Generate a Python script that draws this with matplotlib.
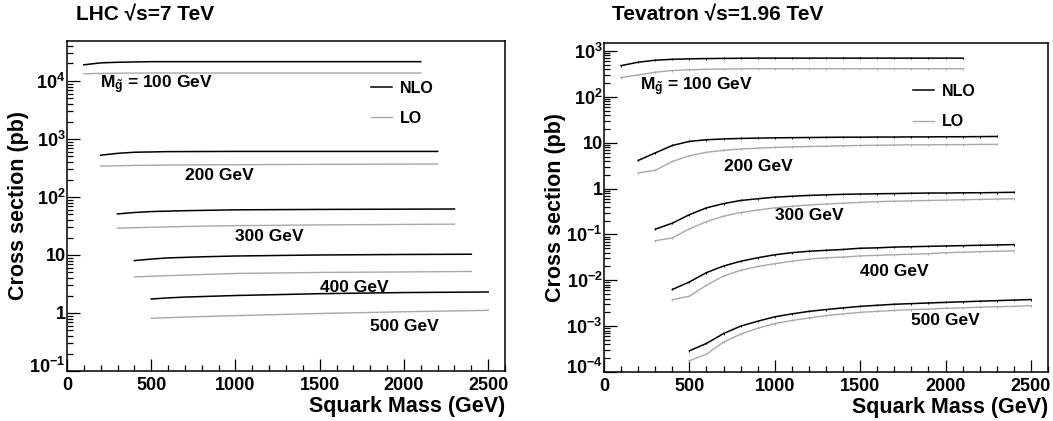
import matplotlib
matplotlib.use('Agg')
import matplotlib.pyplot as plt
import matplotlib.transforms as mtransforms
from matplotlib.lines import Line2D
from matplotlib.ticker import FixedLocator, FixedFormatter, LogLocator, MultipleLocator, NullFormatter

plt.rcParams['font.family'] = ['Liberation Sans', 'DejaVu Sans']
plt.rcParams['font.weight'] = 'bold'
plt.rcParams['mathtext.fontset'] = 'custom'
plt.rcParams['mathtext.rm'] = 'Liberation Sans:bold'
plt.rcParams['mathtext.bf'] = 'Liberation Sans:bold'
plt.rcParams['mathtext.it'] = 'Liberation Sans:bold:italic'

# LHC 7 TeV : squark mass (GeV) -> cross section (pb), one curve per gluino mass
lhc_x = {
    100: [100, 200, 300, 500, 1000, 1500, 2100],
    200: [200, 300, 400, 600, 1000, 1500, 2200],
    300: [300, 400, 500, 700, 1000, 1500, 2300],
    400: [400, 500, 600, 800, 1000, 1500, 2000, 2400],
    500: [500, 600, 700, 1000, 1500, 2000, 2500],
}
lhc_nlo = {
    100: [1.9e4, 2.05e4, 2.1e4, 2.15e4, 2.15e4, 2.15e4, 2.15e4],
    200: [525, 565, 590, 605, 610, 610, 610],
    300: [51, 54, 56, 58, 60, 61, 62],
    400: [8.0, 8.5, 8.9, 9.3, 9.6, 10.0, 10.2, 10.3],
    500: [1.74, 1.82, 1.88, 2.0, 2.15, 2.25, 2.3],
}
lhc_lo = {
    100: [1.33e4, 1.35e4, 1.36e4, 1.37e4, 1.37e4, 1.37e4, 1.37e4],
    200: [340, 345, 350, 355, 360, 365, 370],
    300: [29, 29.5, 30, 31, 32, 33, 34],
    400: [4.2, 4.3, 4.4, 4.6, 4.8, 5.0, 5.1, 5.2],
    500: [0.81, 0.83, 0.85, 0.9, 0.98, 1.05, 1.11],
}

# Tevatron 1.96 TeV, points every 100 GeV
tev_x = {
    100: list(range(100, 2101, 100)),
    200: list(range(200, 2301, 100)),
    300: list(range(300, 2401, 100)),
    400: list(range(400, 2401, 100)),
    500: list(range(500, 2501, 100)),
}
tev_nlo = {
    100: [480, 570, 630, 660, 675, 685, 690, 695, 700, 700, 700, 700, 700, 700, 700, 700, 700, 700, 700, 700, 700],
    200: [4.1, 6.0, 8.7, 10.7, 11.6, 12.1, 12.4, 12.6, 12.8, 12.9, 13.0, 13.1, 13.2, 13.2, 13.3, 13.3, 13.4, 13.4,
          13.5, 13.5, 13.6, 13.7],
    300: [0.13, 0.176, 0.27, 0.38, 0.47, 0.55, 0.60, 0.65, 0.68, 0.71, 0.73, 0.75, 0.76, 0.77, 0.78, 0.79, 0.80,
          0.80, 0.81, 0.81, 0.82, 0.83],
    400: [0.0063, 0.0092, 0.0147, 0.0205, 0.026, 0.031, 0.036, 0.040, 0.043, 0.045, 0.047, 0.050, 0.051, 0.053,
          0.054, 0.055, 0.056, 0.057, 0.058, 0.059, 0.060],
    500: [2.9e-4, 4.2e-4, 6.9e-4, 1.0e-3, 1.28e-3, 1.6e-3, 1.85e-3, 2.1e-3, 2.3e-3, 2.5e-3, 2.7e-3, 2.85e-3, 3.0e-3,
          3.1e-3, 3.2e-3, 3.3e-3, 3.4e-3, 3.5e-3, 3.6e-3, 3.7e-3, 3.8e-3],
}
tev_lo = {
    100: [263, 300, 345, 375, 390, 400, 405, 408, 410, 410, 410, 410, 410, 410, 410, 410, 410, 410, 410, 410, 410],
    200: [2.2, 2.5, 3.9, 5.2, 6.2, 6.8, 7.3, 7.6, 7.9, 8.1, 8.3, 8.4, 8.6, 8.7, 8.8, 8.9, 9.0, 9.0, 9.1, 9.1, 9.2, 9.2],
    300: [0.073, 0.084, 0.133, 0.19, 0.25, 0.30, 0.34, 0.38, 0.41, 0.44, 0.46, 0.48, 0.50, 0.52, 0.53, 0.54, 0.55,
          0.56, 0.57, 0.58, 0.59, 0.60],
    400: [0.0038, 0.0045, 0.0078, 0.0124, 0.0165, 0.020, 0.023, 0.026, 0.029, 0.031, 0.032, 0.034, 0.035, 0.036,
          0.037, 0.038, 0.040, 0.041, 0.042, 0.043, 0.044],
    500: [1.76e-4, 2.45e-4, 4.5e-4, 6.7e-4, 9.0e-4, 1.14e-3, 1.33e-3, 1.5e-3, 1.7e-3, 1.85e-3, 2.0e-3, 2.1e-3,
          2.2e-3, 2.3e-3, 2.35e-3, 2.45e-3, 2.5e-3, 2.6e-3, 2.65e-3, 2.7e-3, 2.8e-3],
}

lhc_yticks = [1e-1, 1, 10, 1e2, 1e3, 1e4]
lhc_ylabels = [r'$\mathbf{10^{-1}}$', '1', '10', r'$\mathbf{10^{2}}$', r'$\mathbf{10^{3}}$', r'$\mathbf{10^{4}}$']
tev_yticks = [1e-4, 1e-3, 1e-2, 1e-1, 1, 10, 1e2, 1e3]
tev_ylabels = [r'$\mathbf{10^{-4}}$', r'$\mathbf{10^{-3}}$', r'$\mathbf{10^{-2}}$', r'$\mathbf{10^{-1}}$', '1', '10',
               r'$\mathbf{10^{2}}$', r'$\mathbf{10^{3}}$']

# label text positions (GeV, pb)
lhc_lab = {100: (195, 8.5e3), 200: (700, 235), 300: (1000, 21), 400: (1500, 2.8), 500: (1800, 0.58)}
tev_lab = {100: (210, 170), 200: (700, 3.0), 300: (1000, 0.26), 400: (1500, 0.0155), 500: (1800, 1.3e-3)}

fig = plt.figure(figsize=(10.53, 4.21), dpi=100)
ax1 = fig.add_axes([0.0636, 0.1188, 0.416, 0.784])
ax2 = fig.add_axes([0.5736, 0.1164, 0.4217, 0.7816])


def style(ax, ylim, yt, yl):
    ax.set_yscale('log')
    ax.set_xlim(0, 2600)
    ax.set_ylim(*ylim)
    for s in ax.spines.values():
        s.set_linewidth(1.1)
    ax.yaxis.set_major_locator(FixedLocator(yt))
    ax.yaxis.set_major_formatter(FixedFormatter(yl))
    ax.yaxis.set_minor_locator(LogLocator(base=10, subs=range(2, 10), numticks=20))
    ax.yaxis.set_minor_formatter(NullFormatter())
    ax.xaxis.set_major_locator(MultipleLocator(500))
    ax.xaxis.set_minor_locator(MultipleLocator(100))
    ax.tick_params(which='both', direction='in', top=False, right=False, labelsize=13, width=0.9)
    ax.tick_params(which='major', length=9)
    ax.tick_params(which='minor', length=4.5)
    ax.tick_params(axis='x', pad=4)
    ax.tick_params(axis='y', pad=1)
    ax.set_xlabel('Squark Mass (GeV)', fontsize=15.5, fontweight='bold', loc='right', labelpad=2)
    ax.set_ylabel('Cross section (pb)', fontsize=15.5, fontweight='bold', labelpad=0)
    # lift the lowest y label a little so it clears the "0" below it
    lab0 = ax.yaxis.get_major_ticks()[0].label1
    lab0.set_transform(lab0.get_transform() + mtransforms.ScaledTranslation(0, 4 / 72, fig.dpi_scale_trans))


style(ax1, (0.1, 4.9e4), lhc_yticks, lhc_ylabels)
style(ax2, (1e-4, 1.5e3), tev_yticks, tev_ylabels)

for m in lhc_x:
    ax1.plot(lhc_x[m], lhc_nlo[m], color='black', lw=1.1)
    ax1.plot(lhc_x[m], lhc_lo[m], color='#a8a8a8', lw=1.0)
for m in tev_x:
    ax2.plot(tev_x[m], tev_nlo[m], color='black', lw=1.1, marker='|', ms=2, mew=0.7)
    ax2.plot(tev_x[m], tev_lo[m], color='#a8a8a8', lw=1.0, marker='|', ms=2, mew=0.7)

for ax, lab in ((ax1, lhc_lab), (ax2, tev_lab)):
    for m, (x, y) in lab.items():
        if m == 100:
            txt = r'M$_{\tilde{\mathbf{g}}}$ = 100 GeV'
        else:
            txt = '%d GeV' % m
        ax.text(x, y, txt, fontsize=12.5, fontweight='bold', ha='left', va='center')

handles = [Line2D([], [], color='black', lw=1.1), Line2D([], [], color='#a8a8a8', lw=1.0)]
for ax, anchor in ((ax1, (0.694, 0.88)), (ax2, (0.696, 0.875))):
    ax.legend(handles, ['NLO', 'LO'], loc='upper left', bbox_to_anchor=anchor, frameon=False,
              handlelength=1.3, handletextpad=0.5, labelspacing=0.95,
              borderpad=0, borderaxespad=0, prop={'weight': 'bold', 'size': 11.5})

fig.text(76 / 1053, 1 - 15 / 421, 'LHC \u221as=7 TeV', fontsize=15, fontweight='bold', ha='left', va='center')
fig.text(612 / 1053, 1 - 15 / 421, 'Tevatron \u221as=1.96 TeV', fontsize=15, fontweight='bold', ha='left',
         va='center')

fig.savefig('out.png', dpi=100)
